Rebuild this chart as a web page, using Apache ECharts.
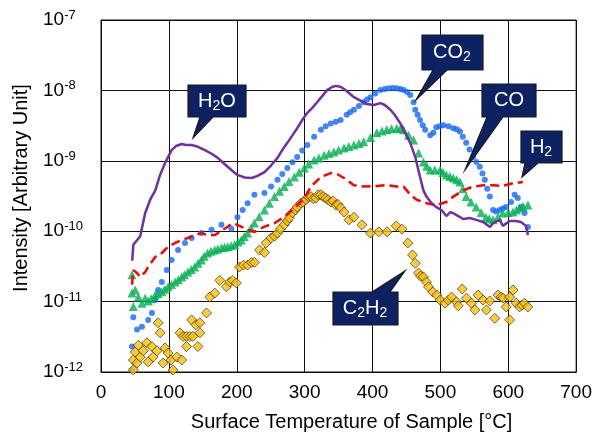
<!DOCTYPE html>
<html>
<head>
<meta charset="utf-8">
<script src="https://cdn.jsdelivr.net/npm/echarts@6/dist/echarts.min.js"></script>
<style>
  html, body { margin: 0; padding: 0; background: #fff; }
  #chart { width: 595px; height: 437px; }
</style>
</head>
<body>
<div id="chart"></div>
<script>
// H2O - đường tím
const h2oT = [46, 47.6, 50.5, 57.8, 65, 72.5, 80, 87, 94.4, 104, 110.5, 119, 125, 133.5, 143, 153, 163, 172, 182, 192, 201, 211.6, 222, 230.6, 241, 251, 260, 267, 274.5, 282, 289, 296.5, 304, 311, 318.4, 325.8, 333, 340.4, 346, 353.6, 362, 372.6, 383, 391.7, 402, 411.7, 418, 426.4, 432.6, 441, 447, 455.6, 463, 470, 475, 479.5, 487, 494, 501.5, 508.8, 514.6, 519, 526.4, 533.7, 543.5, 552.7, 563, 573, 577.6, 587.4, 592, 602, 611, 618.6, 626, 629];
const h2oI = [3.8e-11, 6.4e-11, 6.8e-11, 8.5e-11, 1.8e-10, 2.8e-10, 3.8e-10, 6.3e-10, 9.3e-10, 1.42e-9, 1.62e-9, 1.73e-9, 1.68e-9, 1.68e-9, 1.58e-9, 1.42e-9, 1.26e-9, 1.1e-9, 9.0e-10, 7.4e-10, 6.3e-10, 5.8e-10, 5.7e-10, 6.1e-10, 6.9e-10, 8.7e-10, 1.1e-9, 1.42e-9, 1.8e-9, 2.3e-9, 2.9e-9, 3.8e-9, 4.8e-9, 5.6e-9, 6.8e-9, 8.3e-9, 1.01e-8, 1.12e-8, 1.16e-8, 1.12e-8, 9.8e-9, 8.0e-9, 7.1e-9, 6.4e-9, 6.2e-9, 6.6e-9, 6.2e-9, 5.3e-9, 4.5e-9, 3.4e-9, 2.6e-9, 1.8e-9, 1.13e-9, 5.9e-10, 3.8e-10, 3.1e-10, 2.5e-10, 2.2e-10, 2.0e-10, 1.64e-10, 1.87e-10, 1.8e-10, 1.64e-10, 1.49e-10, 1.54e-10, 1.45e-10, 1.35e-10, 1.15e-10, 1.3e-10, 1.45e-10, 1.19e-10, 1.4e-10, 1.4e-10, 1.35e-10, 1.19e-10, 8.8e-11];

// CO2 - chấm xanh dương
const co2T = [45.7, 45.7, 47.6, 53, 60.3, 69.5, 75, 79.8, 84.2, 89.6, 97, 104, 113.5, 123.7, 133.5, 148, 162.8, 177.5, 192, 201, 208.6, 216, 226, 240.8, 250.6, 260, 267, 274.5, 282, 289, 296.5, 304, 314, 324, 331, 338.5, 346, 353, 362, 367, 372.6, 380, 387, 392, 397, 404, 411.7, 418, 424, 430, 435.6, 441, 445.8, 451, 455.6, 460.5, 463, 466.5, 470, 474, 477.6, 485, 489.7, 494, 499, 504.4, 512, 519, 524, 528.8, 533, 538, 543, 548, 553, 558, 562, 565.4, 569, 572.8, 577.6, 582, 587.4, 592, 596.6, 604, 609.4, 614, 618.6, 624, 629];
const co2I = [1.07e-12, 2.3e-12, 6.0e-12, 4.0e-12, 4.4e-12, 5.5e-12, 6.9e-12, 1.05e-11, 1.46e-11, 1.9e-11, 2.8e-11, 3.9e-11, 5.4e-11, 6.8e-11, 8.0e-11, 9.4e-11, 1.05e-10, 1.23e-10, 1.08e-10, 1.58e-10, 2.0e-10, 2.5e-10, 3.3e-10, 3.5e-10, 4.3e-10, 5.4e-10, 6.5e-10, 7.9e-10, 9.5e-10, 1.13e-9, 1.4e-9, 1.67e-9, 2.2e-9, 2.75e-9, 3.1e-9, 3.4e-9, 3.6e-9, 3.8e-9, 4.5e-9, 4.9e-9, 5.3e-9, 6.0e-9, 6.8e-9, 7.4e-9, 8.0e-9, 9.0e-9, 1.01e-8, 1.05e-8, 1.07e-8, 1.08e-8, 1.07e-8, 1.05e-8, 1.01e-8, 9.5e-9, 8.6e-9, 6.8e-9, 5.3e-9, 4.5e-9, 3.8e-9, 3.2e-9, 2.75e-9, 2.3e-9, 2.5e-9, 3.0e-9, 3.1e-9, 3.2e-9, 3.1e-9, 2.9e-9, 2.8e-9, 2.6e-9, 2.2e-9, 1.8e-9, 1.45e-9, 1.13e-9, 9.6e-10, 8.2e-10, 6.6e-10, 5.4e-10, 4.0e-10, 3.1e-10, 2.0e-10, 1.9e-10, 2.0e-10, 2.1e-10, 2.2e-10, 2.6e-10, 3.3e-10, 2.95e-10, 2.2e-10, 1.82e-10, 1.15e-10];

// CO - tam giác xanh lá
const coT = [45.7, 45.7, 47.6, 50.5, 55, 60.3, 65, 69.5, 74, 79.8, 84, 89.6, 94, 98.8, 104, 109, 114, 119, 123, 128, 133, 138, 143, 148, 152, 157, 162, 167.6, 172, 177.5, 182, 186.7, 192, 197, 202, 206.7, 211, 216, 221, 226, 233, 240.8, 248, 255.5, 263, 270, 277, 284.8, 292, 299.4, 306, 314, 321, 328.7, 336, 343, 350, 358, 365, 372.6, 380, 387, 397, 406.3, 414, 421, 428, 435.6, 441, 445.8, 453, 460.5, 467.8, 475, 480, 485, 492, 499.6, 504, 508.8, 514, 519, 524, 528.8, 533, 538, 545, 552.7, 560, 567, 572, 577.6, 585, 592, 600, 607, 612, 616.7, 622, 629];
const coI = [2.4e-11, 1.32e-11, 8.5e-12, 1.46e-11, 1.16e-11, 9.5e-12, 1.12e-11, 1.02e-11, 1.1e-11, 1.24e-11, 1.3e-11, 1.38e-11, 1.5e-11, 1.62e-11, 1.75e-11, 1.9e-11, 2.05e-11, 2.24e-11, 2.4e-11, 2.63e-11, 2.85e-11, 3.1e-11, 3.5e-11, 3.9e-11, 4.4e-11, 4.9e-11, 5.2e-11, 5.4e-11, 5.6e-11, 5.8e-11, 5.9e-11, 6.0e-11, 6.2e-11, 6.4e-11, 7.0e-11, 7.5e-11, 8.4e-11, 9.4e-11, 1.1e-10, 1.31e-10, 1.6e-10, 2.0e-10, 2.5e-10, 3.1e-10, 3.7e-10, 4.3e-10, 5.1e-10, 5.9e-10, 6.9e-10, 7.9e-10, 9.0e-10, 1.03e-9, 1.1e-9, 1.2e-9, 1.27e-9, 1.33e-9, 1.42e-9, 1.52e-9, 1.6e-9, 1.67e-9, 1.76e-9, 1.86e-9, 2.15e-9, 2.5e-9, 2.65e-9, 2.75e-9, 2.85e-9, 2.9e-9, 2.85e-9, 2.75e-9, 2.3e-9, 1.97e-9, 1.29e-9, 9.6e-10, 8.4e-10, 7.4e-10, 7.4e-10, 7.4e-10, 6.8e-10, 6.3e-10, 6.0e-10, 5.7e-10, 5.4e-10, 5.0e-10, 4.0e-10, 3.1e-10, 2.6e-10, 2.2e-10, 1.85e-10, 1.58e-10, 1.5e-10, 1.45e-10, 1.6e-10, 1.82e-10, 1.85e-10, 1.87e-10, 2.0e-10, 2.14e-10, 2.25e-10, 2.35e-10];

// H2 - đường đỏ nét đứt
const h2T = [45.7, 47.6, 53, 57.8, 65, 69.5, 79.8, 89.6, 98.8, 109, 119, 128, 138, 148, 157, 167.6, 175, 183.7, 194, 204, 216, 226, 240.8, 255.5, 270, 284.8, 299.4, 309, 324, 338.5, 347.7, 358, 372.6, 387, 406.3, 421, 435.6, 445.8, 455.6, 465, 479.5, 494, 508.8, 519, 533.7, 548, 563, 577.6, 592, 607, 621.5];
const h2I = [1.74e-11, 2.8e-11, 2.55e-11, 2.24e-11, 2.63e-11, 3.1e-11, 4.3e-11, 4.9e-11, 6.0e-11, 6.8e-11, 7.5e-11, 8.0e-11, 8.8e-11, 9.4e-11, 8.8e-11, 8.8e-11, 9.8e-11, 1.11e-10, 1.3e-10, 1.19e-10, 1.05e-10, 9.8e-11, 1.16e-10, 1.3e-10, 1.6e-10, 2.14e-10, 2.9e-10, 4.3e-10, 5.9e-10, 6.7e-10, 6.5e-10, 5.7e-10, 4.5e-10, 4.3e-10, 4.4e-10, 4.5e-10, 4.3e-10, 4.3e-10, 3.3e-10, 2.8e-10, 2.5e-10, 2.35e-10, 2.6e-10, 3.1e-10, 3.8e-10, 4.3e-10, 4.5e-10, 4.5e-10, 4.4e-10, 4.8e-10, 5.0e-10];

// C2H2 - hình thoi vàng
const c2h2T = [47.6, 47.6, 50.5, 53, 55, 57.8, 62.2, 67.6, 69.5, 75, 76.9, 82.3, 84.2, 87.1, 91.5, 94.4, 98.8, 103.2, 106, 111.6, 116.4, 119, 120.8, 126, 126, 131, 133.5, 135.4, 139.8, 142.8, 145.7, 145.7, 155.5, 160.3, 167.6, 175, 184.8, 189.6, 194, 199.4, 204, 210, 216, 221.8, 226, 233.5, 240.8, 243.3, 250.6, 255.5, 260, 264.3, 270, 274.5, 277.5, 282, 286.2, 289, 294.6, 298, 302, 305.3, 309.2, 312.6, 316.5, 320, 323.9, 327.2, 331, 334.5, 338.5, 341.9, 345.8, 349, 353, 358, 365.3, 372.6, 384.3, 397, 409.2, 421.4, 435, 443.3, 452, 459, 463, 467.8, 470.7, 475, 479.5, 482.4, 488.7, 494.6, 499.6, 506.9, 511.7, 516.5, 523.9, 526.4, 532.2, 538.5, 545.8, 550.8, 555.6, 563, 567.8, 572.8, 580, 585, 589.3, 592.2, 597, 602, 602, 607, 611.7, 616.7, 620, 624, 628.8];
const c2h2I = [1.07e-12, 1.48e-12, 1.92e-12, 1.34e-12, 2.4e-12, 1.63e-12, 2.0e-12, 2.6e-12, 1.39e-12, 2.3e-12, 1.63e-12, 2.0e-12, 5.0e-12, 3.6e-12, 1.34e-12, 2.2e-12, 1.86e-12, 1.48e-12, 1.07e-12, 1.63e-12, 3.6e-12, 1.48e-12, 3.2e-12, 3.2e-12, 2.3e-12, 3.2e-12, 5.5e-12, 3.2e-12, 4.7e-12, 2.3e-12, 3.6e-12, 5.0e-12, 6.9e-12, 1.16e-11, 1.32e-11, 2.0e-11, 1.62e-11, 1.9e-11, 2.0e-11, 1.84e-11, 3.1e-11, 3.3e-11, 3.3e-11, 3.6e-11, 3.6e-11, 5.4e-11, 5.0e-11, 6.8e-11, 8.0e-11, 8.5e-11, 9.4e-11, 1.07e-10, 1.23e-10, 1.4e-10, 1.54e-10, 1.82e-10, 2.0e-10, 2.2e-10, 2.5e-10, 2.6e-10, 2.8e-10, 3.1e-10, 3.1e-10, 2.9e-10, 2.95e-10, 3.3e-10, 3.3e-10, 3.1e-10, 2.95e-10, 2.8e-10, 2.6e-10, 2.7e-10, 2.35e-10, 2.4e-10, 2.14e-10, 1.87e-10, 1.45e-10, 1.58e-10, 1.23e-10, 9.4e-11, 9.8e-11, 9.8e-11, 1.19e-10, 1.07e-10, 6.8e-11, 4.6e-11, 3.5e-11, 2.55e-11, 2.3e-11, 2.24e-11, 1.9e-11, 1.62e-11, 1.37e-11, 1.24e-11, 1.05e-11, 9.5e-12, 1.05e-11, 1.16e-11, 9.9e-12, 8.7e-12, 1.51e-11, 1.12e-11, 9.5e-12, 7.6e-12, 1.24e-11, 1.05e-11, 7.6e-12, 1.02e-11, 5.8e-12, 1.24e-11, 1.16e-11, 1.12e-11, 8.4e-12, 5.5e-12, 1.16e-11, 1.46e-11, 9.5e-12, 8.4e-12, 8.9e-12, 9.5e-12, 8.4e-12];

const xTicks = [0, 100, 200, 300, 400, 500, 600, 700];

function pairs(xs, ys) {
    return xs.map((x, i) => [x, ys[i]]);
}

// Khung chú thích (callout) màu xanh đậm
const calloutFill = '#0c2262';
function callout(points, text, cx, cy) {
    return [
        {
            type: 'polygon',
            shape: { points: points },
            style: { fill: calloutFill, stroke: '#1a1a1a', lineWidth: 1.2 },
            z: 100
        },
        {
            type: 'text',
            x: cx,
            y: cy,
            style: {
                text: text,
                fill: '#fff',
                align: 'center',
                verticalAlign: 'middle',
                rich: {
                    n: { fontSize: 20, fontFamily: 'Liberation Sans, Arial', color: '#fff', lineHeight: 24 },
                    s: { fontSize: 14, fontFamily: 'Liberation Sans, Arial', color: '#fff', lineHeight: 14, verticalAlign: 'bottom' }
                }
            },
            z: 101
        }
    ];
}

const chart = echarts.init(document.getElementById('chart'));
chart.setOption({
    animation: false,
    backgroundColor: '#fff',
    grid: {
        left: 101, right: 16, top: 20, bottom: 65,
        show: true, borderColor: '#111', borderWidth: 1
    },
    xAxis: {
        type: 'value',
        min: 0, max: 700, interval: 100,
        name: 'Surface Temperature of Sample [°C]',
        nameLocation: 'middle',
        nameGap: 40,
        nameTextStyle: { fontSize: 20, color: '#000', fontFamily: 'Liberation Sans, Arial', padding: [0, 0, 0, 26] },
        axisLine: { lineStyle: { color: '#111' } },
        axisTick: { show: false },
        splitLine: { lineStyle: { color: '#111', width: 1 } },
        axisLabel: {
            fontSize: 19, color: '#000', fontFamily: 'Liberation Sans, Arial', margin: 11,
            formatter: v => xTicks.includes(v) ? String(v) : ''
        }
    },
    yAxis: {
        type: 'log',
        logBase: 10,
        min: 1e-12, max: 1e-7,
        name: 'Intensity [Arbitrary Unit]',
        nameLocation: 'middle',
        nameGap: 70,
        nameTextStyle: { fontSize: 20, color: '#000', fontFamily: 'Liberation Sans, Arial', padding: [0, 0, 0, 16] },
        axisLine: { show: true, lineStyle: { color: '#111' } },
        axisTick: { show: false },
        minorTick: { show: false },
        splitLine: { lineStyle: { color: '#111', width: 1 } },
        axisLabel: {
            align: 'left',
            margin: 58,
            formatter: v => '{b|10}{s|' + Math.round(Math.log10(v)) + '}',
            rich: {
                b: { fontSize: 19, color: '#000', fontFamily: 'Liberation Sans, Arial', lineHeight: 22 },
                s: { fontSize: 13, color: '#000', fontFamily: 'Liberation Sans, Arial', lineHeight: 14, verticalAlign: 'top' }
            }
        }
    },
    series: [
        {
            name: 'CO2', type: 'scatter',
            data: pairs(co2T, co2I),
            symbol: 'circle', symbolSize: 6,
            itemStyle: { color: '#1168ff' }
        },
        {
            name: 'CO', type: 'scatter',
            data: pairs(coT, coI),
            symbol: 'triangle', symbolSize: 9,
            itemStyle: { color: '#00b050' }
        },
        {
            name: 'H2', type: 'line',
            data: pairs(h2T, h2I),
            showSymbol: false,
            lineStyle: { color: '#ff0000', width: 2.5, type: [9, 5] }
        },
        {
            name: 'H2O', type: 'line',
            data: pairs(h2oT, h2oI),
            showSymbol: false,
            lineStyle: { color: '#7030a0', width: 2.5 }
        },
        {
            name: 'C2H2', type: 'scatter',
            data: pairs(c2h2T, c2h2I),
            symbol: 'diamond', symbolSize: 10,
            itemStyle: { color: '#ffc000', borderColor: '#333', borderWidth: 0.9 }
        }
    ],
    graphic: [].concat(
        callout([[188, 85], [246, 85], [246, 117], [213, 117], [193, 138], [200, 117], [188, 117]], '{n|H}{s|2}{n|O}', 217, 101),
        callout([[422, 35], [483, 35], [483, 70], [447, 70], [416, 100], [433, 70], [422, 70]], '{n|CO}{s|2}', 452, 52),
        callout([[482, 84], [536, 84], [536, 117], [503, 117], [465, 170], [487, 117], [482, 117]], '{n|CO}', 509, 100),
        callout([[521, 131], [562, 131], [562, 163], [538, 163], [522, 177], [525, 163], [521, 163]], '{n|H}{s|2}', 541, 147),
        callout([[333, 292], [372, 292], [405, 271], [390, 292], [398, 292], [398, 325], [333, 325]], '{n|C}{s|2}{n|H}{s|2}', 365, 308)
    )
});
</script>
</body>
</html>
